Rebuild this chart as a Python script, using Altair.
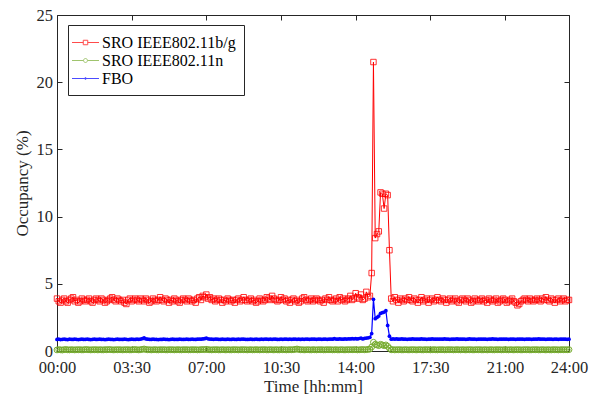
import altair as alt
import pandas as pd

# sample times (minutes after midnight, 5-minute sampling)
minutes = list(range(0, 1441, 5))

red = [
    3.9, 3.7, 3.6, 3.8, 3.9, 3.7, 3.6, 3.8, 3.9, 4.0, 3.7, 3.8,
    3.6, 3.7, 3.9, 3.8, 3.7, 3.8, 3.9, 3.7, 3.6, 3.8, 3.9, 3.8,
    3.7, 3.9, 3.8, 3.6, 3.7, 3.8, 3.9, 4.0, 3.8, 3.7, 3.9, 3.8,
    3.7, 3.8, 3.6, 3.5, 3.8, 3.9, 3.7, 3.8, 3.9, 3.8, 3.7, 3.9,
    3.8, 3.7, 3.9, 3.8, 3.6, 3.7, 3.9, 3.8, 3.7, 3.8, 4.0, 3.8,
    3.7, 3.9, 3.8, 3.6, 3.8, 3.7, 3.9, 3.8, 3.7, 3.6, 3.8, 3.9,
    3.8, 3.7, 3.9, 3.8, 3.7, 3.8, 3.6, 3.9, 4.0, 3.8, 4.1, 4.0,
    4.2, 3.9, 4.0, 3.8, 3.9, 3.7, 3.8, 3.9, 3.8, 3.6, 3.8, 3.7,
    3.9, 3.8, 3.7, 3.8, 3.6, 3.8, 3.9, 3.7, 3.8, 4.0, 3.8, 3.7,
    3.8, 3.9, 3.7, 3.8, 3.6, 3.7, 3.9, 3.8, 3.7, 3.8, 4.0, 3.9,
    3.8, 4.1, 3.9, 3.8, 3.7, 3.8, 4.0, 3.8, 3.9, 3.7, 3.8, 3.6,
    3.8, 3.9, 3.7, 3.8, 3.6, 3.7, 3.9, 4.0, 3.8, 3.7, 3.8, 3.9,
    3.7, 3.8, 3.9, 3.8, 3.7, 3.8, 3.6, 3.9, 3.8, 4.0, 3.8, 3.7,
    3.8, 3.9, 3.7, 4.0, 3.8, 3.9, 3.7, 3.8, 3.9, 4.1, 3.8, 3.9,
    4.3, 4.0, 3.9, 4.2, 3.8, 3.9, 4.4, 4.0, 4.1, 5.8, 21.5, 8.4,
    8.7, 8.9, 11.8, 11.7, 10.6, 11.7, 11.6, 7.5, 3.9, 3.7, 4.0, 3.8,
    3.6, 3.9, 3.8, 3.7, 3.9, 3.8, 4.0, 3.8, 3.7, 3.9, 3.8, 3.6,
    3.8, 4.0, 3.7, 3.8, 3.9, 3.6, 3.8, 3.9, 3.7, 3.8, 4.0, 3.8,
    3.7, 3.9, 3.8, 3.6, 3.8, 3.9, 3.7, 3.8, 3.9, 3.7, 3.6, 3.8,
    3.9, 3.8, 3.7, 3.9, 3.8, 3.6, 3.7, 3.9, 3.8, 3.7, 3.8, 3.9,
    3.7, 3.8, 3.6, 3.9, 3.8, 3.7, 3.8, 3.9, 3.6, 3.7, 3.8, 3.9,
    3.8, 3.6, 3.7, 3.8, 3.9, 3.7, 3.6, 3.4, 3.5, 3.7, 3.8, 3.9,
    3.8, 3.7, 3.9, 3.8, 3.7, 3.8, 3.9, 3.8, 3.7, 3.9, 3.8, 4.0,
    3.8, 3.7, 3.9, 3.8, 3.6, 3.8, 3.9, 3.7, 3.8, 3.9, 3.7, 3.8,
    3.8,
]

green = [
    0.08, 0.10, 0.09, 0.07, 0.10, 0.11, 0.09, 0.08, 0.10, 0.09, 0.08, 0.10,
    0.09, 0.10, 0.08, 0.09, 0.11, 0.10, 0.09, 0.08, 0.10, 0.09, 0.10, 0.08,
    0.10, 0.09, 0.08, 0.10, 0.09, 0.11, 0.10, 0.09, 0.08, 0.10, 0.09, 0.10,
    0.09, 0.08, 0.10, 0.09, 0.10, 0.08, 0.09, 0.10, 0.11, 0.09, 0.08, 0.10,
    0.12, 0.15, 0.11, 0.09, 0.10, 0.08, 0.09, 0.10, 0.09, 0.08, 0.10, 0.09,
    0.10, 0.09, 0.08, 0.10, 0.09, 0.10, 0.08, 0.09, 0.10, 0.09, 0.08, 0.10,
    0.09, 0.10, 0.08, 0.09, 0.10, 0.09, 0.10, 0.08, 0.09, 0.10, 0.11, 0.10,
    0.12, 0.10, 0.09, 0.08, 0.10, 0.09, 0.10, 0.08, 0.09, 0.10, 0.09, 0.08,
    0.10, 0.09, 0.08, 0.10, 0.09, 0.10, 0.08, 0.09, 0.10, 0.09, 0.10, 0.08,
    0.09, 0.10, 0.08, 0.09, 0.10, 0.09, 0.08, 0.10, 0.09, 0.10, 0.08, 0.09,
    0.10, 0.09, 0.08, 0.10, 0.09, 0.08, 0.10, 0.09, 0.10, 0.08, 0.09, 0.10,
    0.09, 0.10, 0.12, 0.15, 0.11, 0.09, 0.10, 0.08, 0.09, 0.10, 0.09, 0.08,
    0.10, 0.09, 0.08, 0.10, 0.09, 0.10, 0.08, 0.09, 0.10, 0.09, 0.10, 0.08,
    0.09, 0.10, 0.08, 0.09, 0.10, 0.09, 0.08, 0.10, 0.09, 0.10, 0.09, 0.10,
    0.10, 0.08, 0.09, 0.10, 0.11, 0.09, 0.10, 0.12, 0.14, 0.30, 0.65, 0.50,
    0.45, 0.40, 0.50, 0.45, 0.40, 0.45, 0.35, 0.20, 0.09, 0.10, 0.08, 0.10,
    0.09, 0.10, 0.08, 0.09, 0.10, 0.09, 0.08, 0.10, 0.09, 0.10, 0.08, 0.09,
    0.10, 0.09, 0.08, 0.10, 0.09, 0.10, 0.08, 0.09, 0.10, 0.09, 0.08, 0.10,
    0.09, 0.10, 0.08, 0.09, 0.10, 0.09, 0.10, 0.08, 0.09, 0.10, 0.09, 0.08,
    0.10, 0.09, 0.08, 0.10, 0.09, 0.10, 0.08, 0.09, 0.10, 0.09, 0.10, 0.08,
    0.09, 0.10, 0.08, 0.09, 0.10, 0.09, 0.08, 0.10, 0.09, 0.10, 0.08, 0.09,
    0.10, 0.09, 0.08, 0.10, 0.09, 0.08, 0.10, 0.09, 0.10, 0.08, 0.09, 0.10,
    0.09, 0.10, 0.08, 0.09, 0.10, 0.09, 0.10, 0.08, 0.09, 0.10, 0.09, 0.08,
    0.10, 0.09, 0.08, 0.10, 0.09, 0.10, 0.08, 0.09, 0.10, 0.09, 0.10, 0.09,
    0.10,
]

blue = [
    0.86, 0.88, 0.85, 0.87, 0.89, 0.86, 0.85, 0.88, 0.87, 0.86, 0.88, 0.87,
    0.85, 0.87, 0.88, 0.86, 0.87, 0.89, 0.86, 0.85, 0.87, 0.88, 0.86, 0.87,
    0.88, 0.86, 0.87, 0.85, 0.86, 0.88, 0.87, 0.86, 0.85, 0.87, 0.88, 0.86,
    0.87, 0.86, 0.88, 0.87, 0.85, 0.86, 0.88, 0.87, 0.86, 0.88, 0.87, 0.89,
    0.92, 0.97, 0.90, 0.88, 0.87, 0.86, 0.88, 0.87, 0.86, 0.85, 0.87, 0.86,
    0.88, 0.87, 0.86, 0.85, 0.87, 0.88, 0.86, 0.87, 0.86, 0.88, 0.87, 0.86,
    0.87, 0.88, 0.86, 0.87, 0.88, 0.87, 0.86, 0.88, 0.89, 0.88, 0.90, 0.92,
    0.95, 0.91, 0.89, 0.88, 0.87, 0.89, 0.88, 0.87, 0.86, 0.88, 0.87, 0.86,
    0.88, 0.87, 0.86, 0.88, 0.87, 0.86, 0.88, 0.87, 0.89, 0.88, 0.87, 0.86,
    0.87, 0.88, 0.86, 0.87, 0.88, 0.87, 0.86, 0.88, 0.87, 0.89, 0.88, 0.87,
    0.88, 0.87, 0.89, 0.88, 0.86, 0.87, 0.88, 0.87, 0.89, 0.88, 0.87, 0.88,
    0.87, 0.88, 0.89, 0.87, 0.88, 0.86, 0.88, 0.87, 0.89, 0.88, 0.87, 0.88,
    0.89, 0.88, 0.87, 0.89, 0.88, 0.87, 0.88, 0.89, 0.87, 0.88, 0.89, 0.88,
    0.92, 0.89, 0.88, 0.90, 0.89, 0.88, 0.90, 0.89, 0.91, 0.90, 0.92, 0.91,
    0.92, 0.90, 0.93, 0.95, 0.90, 0.94, 0.96, 0.98, 1.02, 1.30, 3.85, 2.40,
    2.50, 2.60, 2.80, 2.85, 2.90, 3.00, 1.90, 1.10, 0.88, 0.90, 0.89, 0.90,
    0.88, 0.89, 0.90, 0.88, 0.89, 0.87, 0.89, 0.88, 0.90, 0.89, 0.88, 0.89,
    0.88, 0.90, 0.89, 0.88, 0.87, 0.89, 0.88, 0.90, 0.89, 0.88, 0.89, 0.88,
    0.89, 0.88, 0.90, 0.89, 0.88, 0.87, 0.89, 0.88, 0.89, 0.90, 0.88, 0.89,
    0.88, 0.89, 0.87, 0.88, 0.90, 0.89, 0.88, 0.89, 0.87, 0.88, 0.89, 0.88,
    0.89, 0.88, 0.87, 0.89, 0.88, 0.90, 0.89, 0.88, 0.87, 0.89, 0.88, 0.89,
    0.88, 0.89, 0.87, 0.88, 0.89, 0.88, 0.87, 0.89, 0.88, 0.89, 0.88, 0.87,
    0.89, 0.88, 0.89, 0.87, 0.88, 0.89, 0.88, 0.90, 0.88, 0.89, 0.88, 0.87,
    0.88, 0.89, 0.88, 0.87, 0.89, 0.88, 0.87, 0.89, 0.88, 0.89, 0.88, 0.87,
    0.88,
]

series_names = ["SRO IEEE802.11b/g", "SRO IEEE802.11n", "FBO"]
series_colors = ["#FF0000", "#77AC30", "#0000FF"]
x_tick_values = [0, 210, 420, 630, 840, 1050, 1260, 1440]
y_tick_values = [0, 5, 10, 15, 20, 25]

# legend glyphs: short line with marker in the middle
legend_paths = [
    "M-1.5,0H-0.25M0.25,0H1.5M-0.25,-0.25H0.25V0.25H-0.25Z",
    "M-1.5,0H-0.22M0.22,0H1.5M-0.22,0A0.22,0.22 0 1,0 0.22,0A0.22,0.22 0 1,0 -0.22,0",
    "M-1.5,0H1.5M-0.1,0A0.1,0.1 0 1,0 0.1,0A0.1,0.1 0 1,0 -0.1,0",
]

FONT = "Liberation Serif"

df_red = pd.DataFrame({"t": minutes, "v": red, "s": series_names[0]})
df_green = pd.DataFrame({"t": minutes, "v": green, "s": series_names[1]})
df_blue = pd.DataFrame({"t": minutes, "v": blue, "s": series_names[2]})
df_all = pd.concat([df_red, df_green, df_blue], ignore_index=True)

label_expr = ("(datum.value < 600 ? '0' : '') + floor(datum.value / 60) + ':' + "
              "(datum.value % 60 < 10 ? '0' : '') + (datum.value % 60)")

x_scale = alt.Scale(domain=[0, 1440], nice=False, zero=False)
y_scale = alt.Scale(domain=[0, 25], nice=False)

x_axis = alt.Axis(values=x_tick_values, labelExpr=label_expr, title="Time [hh:mm]",
                  tickSize=alt.ExprRef("-5"), labelPadding=13, titlePadding=3,
                  labelFlush=False, labelOverlap=False,
                  grid=False, domain=False, labelFont=FONT, titleFont=FONT)
y_axis = alt.Axis(values=y_tick_values, title="Occupancy (%)",
                  tickSize=alt.ExprRef("-5"), labelPadding=9.5, titlePadding=5,
                  labelFlush=False, labelOverlap=False,
                  grid=False, domain=False, labelFont=FONT, titleFont=FONT)

x_main = alt.X("t:Q", scale=x_scale, axis=x_axis)
y_main = alt.Y("v:Q", scale=y_scale, axis=y_axis)
x_plain = alt.X("t:Q", scale=x_scale, axis=None)
y_plain = alt.Y("v:Q", scale=y_scale, axis=None)

red_layer = alt.Chart(df_red).mark_line(
    color=series_colors[0], strokeWidth=1,
    point=alt.OverlayMarkDef(shape="square", filled=False, size=30,
                             color=series_colors[0], strokeWidth=0.8),
).encode(x=x_main, y=y_main)

green_layer = alt.Chart(df_green).mark_line(
    color=series_colors[1], strokeWidth=1,
    point=alt.OverlayMarkDef(shape="circle", filled=False, size=34,
                             color=series_colors[1], strokeWidth=1),
).encode(x=x_plain, y=y_plain)

blue_layer = alt.Chart(df_blue).mark_line(
    color=series_colors[2], strokeWidth=1.2,
    point=alt.OverlayMarkDef(shape="circle", filled=True, size=14,
                             color=series_colors[2]),
).encode(x=x_plain, y=y_plain)

legend_layer = alt.Chart(df_all).transform_filter("datum.v < -100").mark_point(
    filled=False, strokeWidth=1
).encode(
    x=x_plain,
    y=y_plain,
    color=alt.Color("s:N", scale=alt.Scale(domain=series_names, range=series_colors),
                    legend=alt.Legend(title=None, orient="none", legendX=11, legendY=10,
                                      direction="vertical", symbolSize=324,
                                      symbolStrokeWidth=1, labelFont=FONT,
                                      labelFontSize=16, labelColor="black",
                                      labelOffset=7, rowPadding=0, padding=8,
                                      strokeColor="#262626", fillColor="white")),
    shape=alt.Shape("s:N", scale=alt.Scale(domain=series_names, range=legend_paths)),
)

# frame ticks on top and right (no labels)
frame_layer = alt.Chart(df_red).mark_point(opacity=0).encode(
    x=alt.X("t:Q", scale=x_scale,
            axis=alt.Axis(orient="top", values=x_tick_values, labels=False, title=None,
                          tickSize=alt.ExprRef("-5"), grid=False, domain=False)),
    y=alt.Y("v:Q", scale=y_scale,
            axis=alt.Axis(orient="right", values=y_tick_values, labels=False, title=None,
                          tickSize=alt.ExprRef("-5"), grid=False, domain=False)),
)

chart = alt.layer(
    red_layer, green_layer, blue_layer, legend_layer, frame_layer
).resolve_axis(
    x="independent", y="independent"
).properties(
    width=512, height=336,
    autosize=alt.AutoSizeParams(type="none"),
    padding={"left": 57, "top": 15, "right": 39, "bottom": 48},
    background="white",
).configure(
    font=FONT
).configure_view(
    stroke="#262626", strokeWidth=1
).configure_axis(
    labelFont=FONT, titleFont=FONT, labelFontSize=16.5, titleFontSize=17,
    labelColor="#262626", titleColor="#262626", tickColor="#262626",
    titleFontWeight="normal", tickWidth=1
).configure_legend(
    labelFont=FONT
)

chart.save("out.html", embed_options={"renderer": "svg", "actions": False})
